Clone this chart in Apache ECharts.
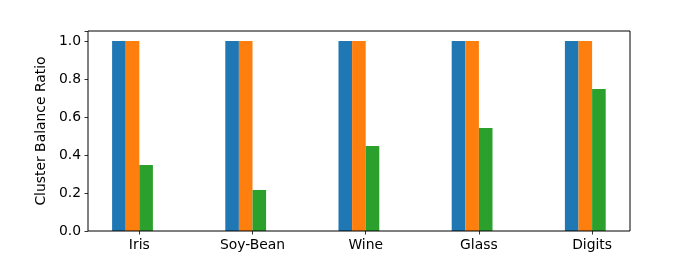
<!DOCTYPE html>
<html>
<head>
<meta charset="utf-8">
<script src="https://cdn.jsdelivr.net/npm/echarts@6/dist/echarts.min.js"></script>
<style>html,body{margin:0;padding:0;background:#fff}#c{width:700px;height:260px}</style>
</head>
<body>
<div id="c"></div>
<script>
var categories = ['Iris', 'Soy-Bean', 'Wine', 'Glass', 'Digits'];
var seriesA = [1.0, 1.0, 1.0, 1.0, 1.0];
var seriesB = [1.0, 1.0, 1.0, 1.0, 1.0];
var seriesC = [0.347, 0.216, 0.447, 0.542, 0.747];
var yTicks = [0.0, 0.2, 0.4, 0.6, 0.8, 1.0];

var FONT = 'DejaVu Sans';
var FS = 13.9;
var chart = echarts.init(document.getElementById('c'), null, {renderer: 'canvas'});
var YMAX = 1.0526;
chart.setOption({
  animation: false,
  backgroundColor: '#fff',
  grid: [
    {left: 88, top: 31, width: 542, height: 200, show: true, borderColor: '#000', borderWidth: 1, backgroundColor: 'transparent', z: 5},
    {left: 82.7, top: 31, width: 566, height: 200, show: false}
  ],
  xAxis: [
    {type: 'value', gridIndex: 0, show: false, min: 0, max: 1},
    {type: 'category', gridIndex: 1, data: categories, boundaryGap: true,
      axisLine: {show: false},
      axisTick: {show: true, alignWithLabel: true, length: 3.5, lineStyle: {color: '#000', width: 0.8}},
      axisLabel: {color: '#000', fontFamily: FONT, fontSize: FS, margin: 7, interval: 0},
      splitLine: {show: false}}
  ],
  yAxis: [
    {type: 'value', gridIndex: 0, min: 0, max: YMAX, interval: 0.2,
      name: 'Cluster Balance Ratio', nameLocation: 'middle', nameGap: 39,
      nameTextStyle: {color: '#000', fontFamily: FONT, fontSize: FS},
      axisLine: {show: false},
      axisTick: {show: true, length: 3.5, lineStyle: {color: '#000', width: 0.8}},
      axisLabel: {color: '#000', fontFamily: FONT, fontSize: FS, margin: 7,
        formatter: function (v) { return yTicks.some(function (t) { return Math.abs(t - v) < 1e-6; }) ? v.toFixed(1) : ''; }},
      splitLine: {show: false}},
    {type: 'value', gridIndex: 1, min: 0, max: YMAX, show: false, splitLine: {show: false}}
  ],
  series: [
    {type: 'bar', xAxisIndex: 1, yAxisIndex: 1, data: seriesA, barWidth: 13.6, barGap: '0%', itemStyle: {color: '#1f77b4'}},
    {type: 'bar', xAxisIndex: 1, yAxisIndex: 1, data: seriesB, barWidth: 13.6, barGap: '0%', itemStyle: {color: '#ff7f0e'}},
    {type: 'bar', xAxisIndex: 1, yAxisIndex: 1, data: seriesC, barWidth: 13.6, barGap: '0%', itemStyle: {color: '#2ca02c'}},
    {type: 'bar', xAxisIndex: 1, yAxisIndex: 1, data: [], barWidth: 13.6, barGap: '0%', itemStyle: {color: 'transparent'}}
  ]
});
</script>
</body>
</html>
